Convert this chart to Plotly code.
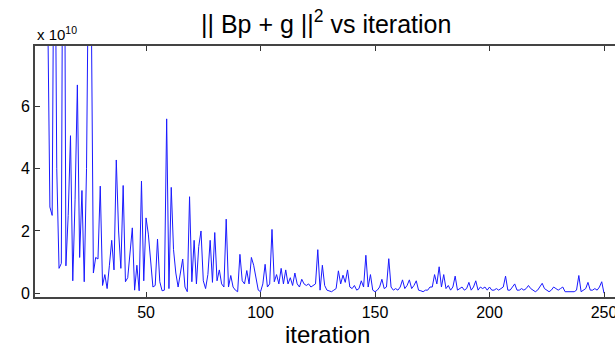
import plotly.graph_objects as go

# values in units of 1e10, one per iteration (1..250)
values = [
    60, 40, 30, 22, 16, 12, 9.5, 2.77, 2.5, 15,
    4.0, 0.8, 0.96, 20, 0.88, 2.5, 5.06, 0.4, 3.0, 6.69,
    1.15, 3.3, 0.37, 4.0, 12, 10, 0.65, 1.15, 1.1, 3.44,
    0.25, 0.6, 0.15, 0.9, 1.7, 0.75, 4.28, 2.0, 0.8, 3.46,
    0.37, 0.5, 1.2, 2.1, 0.1, 0.9, 0.08, 3.6, 0.4, 2.42,
    1.9, 1.0, 0.2, 0.25, 1.74, 0.37, 0.08, 0.1, 5.6, 0.15,
    3.4, 1.4, 0.65, 0.2, 0.6, 1.1, 0.2, 0.05, 3.1, 0.37,
    1.7, 0.3, 1.5, 2.0, 0.4, 0.15, 0.6, 1.7, 0.35, 1.95,
    0.4, 0.75, 0.3, 0.2, 2.38, 0.2, 0.57, 0.2, 0.1, 0.05,
    1.25, 0.4, 0.3, 0.73, 0.3, 1.15, 0.9, 0.5, 0.1, 0.05,
    0.3, 0.93, 0.2, 0.3, 2.05, 0.37, 0.6, 0.3, 0.8, 0.3,
    0.75, 0.3, 0.5, 0.25, 0.65, 0.3, 0.2, 0.45, 0.3, 0.25,
    0.3, 0.2, 0.25, 0.3, 1.4, 0.1, 0.9, 0.25, 0.1, 0.08,
    0.05, 0.1, 0.15, 0.72, 0.3, 0.58, 0.35, 0.75, 0.2, 0.15,
    0.25, 0.1, 0.15, 0.4, 0.2, 1.22, 0.2, 0.6, 0.1, 0.05,
    0.1, 0.2, 0.45, 0.15, 0.2, 1.11, 0.2, 0.1, 0.15, 0.1,
    0.2, 0.43, 0.15, 0.25, 0.43, 0.15, 0.25, 0.4, 0.1, 0.08,
    0.05, 0.1, 0.1, 0.2, 0.2, 0.6, 0.3, 0.85, 0.2, 0.6,
    0.15, 0.25, 0.1, 0.2, 0.55, 0.1, 0.15, 0.2, 0.1, 0.15,
    0.35, 0.1, 0.2, 0.4, 0.1, 0.2, 0.15, 0.2, 0.1, 0.2,
    0.1, 0.1, 0.15, 0.1, 0.15, 0.2, 0.55, 0.1, 0.1, 0.2,
    0.3, 0.1, 0.1, 0.15, 0.1, 0.15, 0.25, 0.15, 0.1, 0.05,
    0.1, 0.2, 0.32, 0.15, 0.1, 0.05, 0.1, 0.2, 0.15, 0.1,
    0.15, 0.2, 0.05, 0.05, 0.05, 0.05, 0.05, 0.1, 0.57, 0.05,
    0.1, 0.15, 0.35, 0.1, 0.1, 0.15, 0.1, 0.2, 0.37, 0.0,
]
iterations = list(range(1, len(values) + 1))

x_ticks = [50, 100, 150, 200, 250]
y_ticks = [0, 2, 4, 6]
y_tick_labels = ["0", "2", "4", "6"]

FONT = "Liberation Sans, Arial, Helvetica, sans-serif"

fig = go.Figure()
fig.add_trace(go.Scatter(
    x=iterations, y=values, mode="lines",
    line=dict(color="#1a1aff", width=1),
    showlegend=False, hoverinfo="skip",
))

fig.update_layout(
    width=615, height=348,
    margin=dict(l=35, r=0, t=46, b=51, autoexpand=False),
    paper_bgcolor="white", plot_bgcolor="white",
    font=dict(family=FONT, color="black"),
    xaxis=dict(
        range=[1.5, 254.8], automargin=False,
        tickvals=x_ticks, ticktext=[str(v) for v in x_ticks],
        ticklabeloverflow="allow",
        ticks="inside", ticklen=5, tickwidth=1, tickcolor="#333",
        showline=True, linecolor="#444", linewidth=2, mirror="ticks",
        showgrid=False, zeroline=False,
        tickfont=dict(size=16, family=FONT, color="black"),
    ),
    yaxis=dict(
        range=[-0.12, 7.94], automargin=False,
        tickvals=y_ticks, ticktext=y_tick_labels,
        ticks="inside", ticklen=5, tickwidth=1, tickcolor="#333",
        showline=True, linecolor="#444", linewidth=2, mirror=False,
        showgrid=False, zeroline=False,
        tickfont=dict(size=16, family=FONT, color="black"),
    ),
)

# title
fig.add_annotation(
    text="|| Bp + g ||<sup>2</sup> vs iteration", xref="paper", yref="paper",
    x=(326 - 35) / 580, y=1.0, xanchor="center", yanchor="bottom", yshift=6,
    showarrow=False, font=dict(size=25, family=FONT, color="black"),
)
# x-axis label
fig.add_annotation(
    text="iteration", xref="paper", yref="paper",
    x=(327 - 35) / 580, y=0, xanchor="center", yanchor="top", yshift=-22,
    showarrow=False, font=dict(size=24, family=FONT, color="black"),
)
# exponent label
fig.add_annotation(
    text="x 10<sup>10</sup>", xref="paper", yref="paper",
    x=0, y=1.0, xanchor="left", yanchor="bottom", yshift=1,
    showarrow=False, font=dict(size=15, family=FONT, color="black"),
)

fig.write_html(
    "out.html",
    config={"displayModeBar": False},
    post_script="document.body.style.margin='0';document.body.style.overflow='hidden';",
)
